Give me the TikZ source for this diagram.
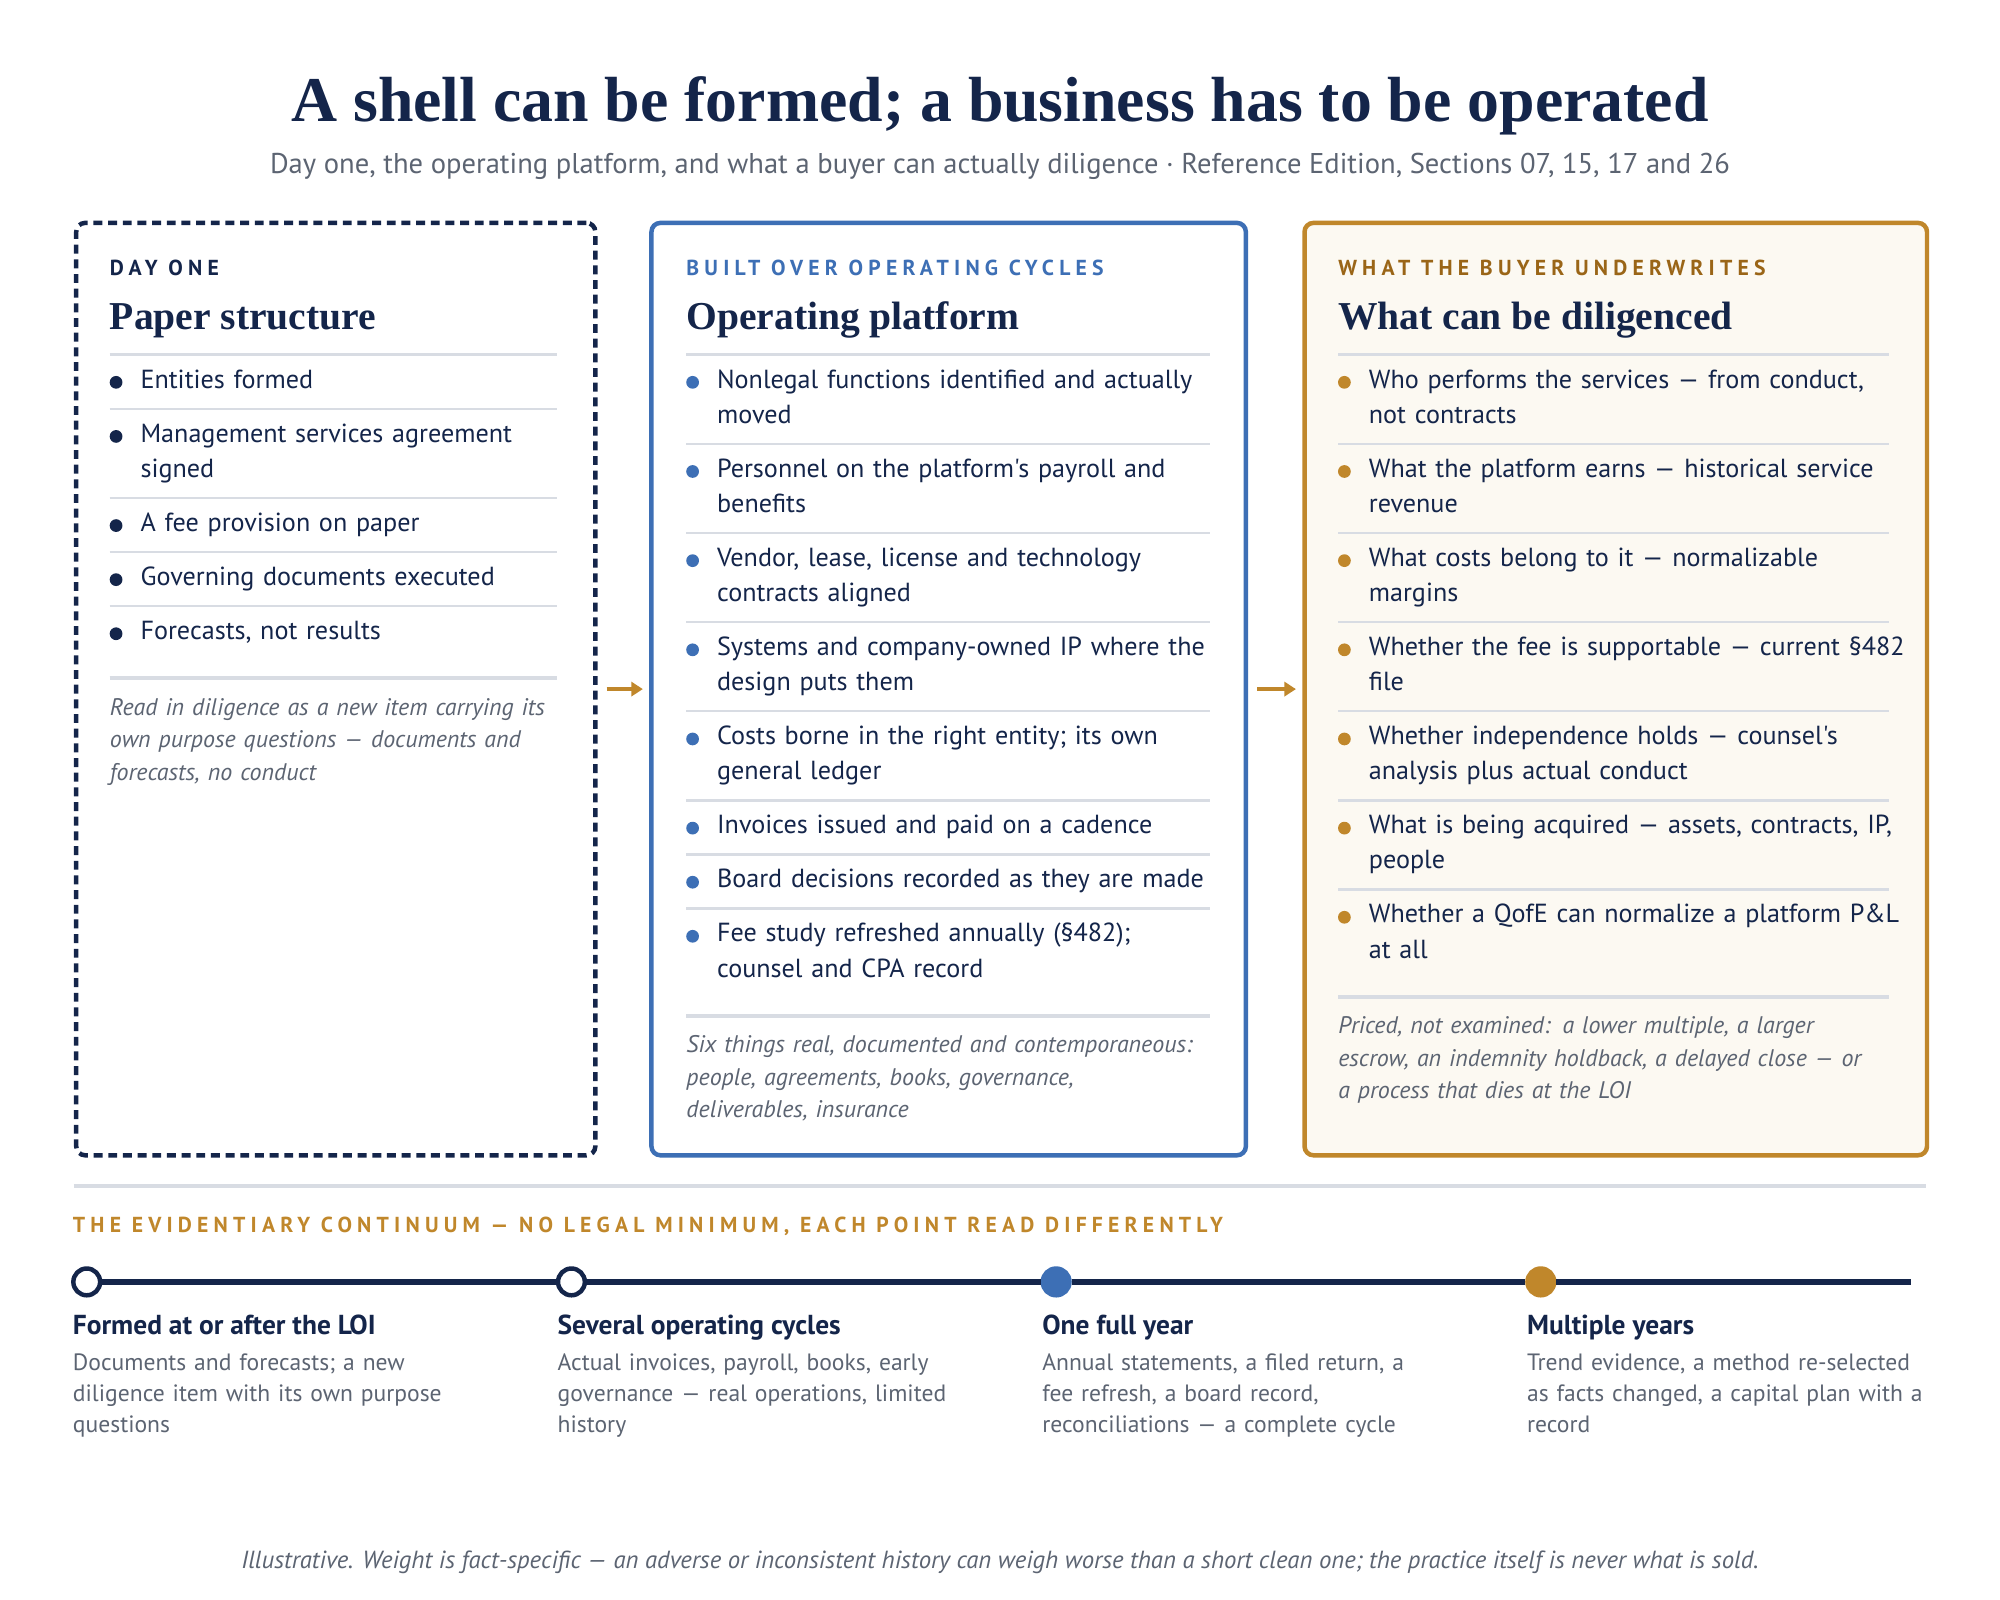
\documentclass[tikz,border=0pt]{standalone}
\usepackage{fontspec}
\usepackage{tikz}
\usetikzlibrary{calc, arrows.meta}
\usetikzlibrary{positioning}

\newfontfamily\bodyfont{PT Sans}
\newfontfamily\kickfont[LetterSpace=24]{PT Sans}
\newfontfamily\headfont{Liberation Serif}

\definecolor{ink}{HTML}{14254A}
\definecolor{steel}{HTML}{3D6FB5}
\definecolor{ochre}{HTML}{C0872B}
\definecolor{ochredark}{HTML}{9A6517}
\definecolor{hairline}{HTML}{D8DCE3}
\definecolor{slate}{HTML}{5C6472}
\definecolor{cream}{HTML}{FCF9F2}

\begin{document}
\begin{tikzpicture}[x=1pt, y=1pt,
    panel/.style={draw, line width=3.5pt, rounded corners=7pt, anchor=north west, minimum width=#1, minimum height=731pt, inner sep=0pt},
    kicker/.style={anchor=base west, inner sep=0pt, font=\kickfont\bfseries\fontsize{17}{20}\selectfont},
    heading/.style={anchor=base west, inner sep=0pt, text=ink, font=\headfont\bfseries\fontsize{31}{36}\selectfont},
    item/.style={inner sep=0pt, text width=460pt, align=left, text=ink, font=\bodyfont\fontsize{20.5}{27.5}\selectfont, execute at begin node=\strut, execute at end node=\strut},
    note/.style={inner sep=0pt, text width=450pt, align=left, text=slate, font=\bodyfont\itshape\fontsize{18.8}{25.5}\selectfont, execute at begin node=\strut, execute at end node=\strut},
    bullet/.style={circle, fill=#1, inner sep=0pt, minimum size=10pt},
    hair/.style={draw=hairline, line width=1.8pt},
    thickhair/.style={draw=hairline, line width=3pt},
    flow/.style={draw=ochre, line width=3pt, -{Triangle[length=9pt,width=11pt]}, shorten <=7pt, shorten >=5pt},
    stop/.style={circle, line width=3.5pt, minimum size=21pt, inner sep=0pt},
    stoptitle/.style={anchor=base west, inner sep=0pt, text=ink, font=\bodyfont\bfseries\fontsize{21.5}{24}\selectfont},
    stopnote/.style={anchor=north west, inner sep=0pt, text width=340pt, align=left, text=slate, font=\bodyfont\fontsize{18.5}{24.5}\selectfont, execute at begin node=\strut, execute at end node=\strut},
    track/.style={draw=ink, line width=5pt}
    ]
    \fill[white] (0,0) rectangle (1568,-1254.4);
    \useasboundingbox (0,0) rectangle (1568,-1254.4);

    % title block
    \node[anchor=base, inner sep=0pt, text=ink, font=\headfont\bfseries\fontsize{50}{58}\selectfont] (title) at (784,-95) {A shell can be formed; a business has to be operated};
    \node[anchor=base, inner sep=0pt, text=slate, font=\bodyfont\fontsize{22.4}{26}\selectfont] (subtitle) at (784,-136) {Day one, the operating platform, and what a buyer can actually diligence · Reference Edition, Sections 07, 15, 17 and 26};

    % the three panels
    \node[panel=407pt, draw=ink, dash pattern=on 7pt off 4.5pt] (paper) at (58,-173) {};
    \node[panel=466pt, draw=steel] (platform) at (509,-173) {};
    \node[panel=488pt, draw=ochre, fill=cream] (buyer) at (1021,-173) {};

    \draw[flow] (paper) -- (platform);
    \draw[flow] (platform) -- (buyer);

    % day one
    \node[kicker, text=ink] (ka) at (86,-216) {DAY ONE};
    \node[heading] (ha) at (86,-258) {Paper structure};
    \coordinate (ra0) at (86,-278);
    \foreach \txt [count=\i, remember=\i as \j (initially 0)] in
        {{Entities formed}, {Management services agreement\\signed}, {A fee provision on paper},
         {Governing documents executed}, {Forecasts, not results}} {
        \draw[hair] (ra\j) -- ++(351,0);
        \node[item, below right=6.75pt and 24pt of ra\j] (ia\i) {\txt};
        \node[bullet=ink] at ($(ia\i.north west)+(-19pt,-15pt)$) {};
        \coordinate (ra\i) at ($(ia\i.south west)+(-24pt,-7.75pt)$);
    }
    \draw[thickhair] ($(ia5.south west)+(-24pt,-22pt)$) coordinate (na) -- ++(351,0);
    \node[note, below right=11pt and 0pt of na] (notea) {Read in diligence as a new item carrying its\\own purpose questions — documents and\\forecasts, no conduct};

    % operating platform
    \node[kicker, text=steel] (kb) at (538,-216) {BUILT OVER OPERATING CYCLES};
    \node[heading] (hb) at (538,-258) {Operating platform};
    \coordinate (rb0) at (538,-278);
    \foreach \txt [count=\i, remember=\i as \j (initially 0)] in
        {{Nonlegal functions identified and actually\\moved}, {Personnel on the platform's payroll and\\benefits},
         {Vendor, lease, license and technology\\contracts aligned}, {Systems and company-owned IP where the\\design puts them},
         {Costs borne in the right entity; its own\\general ledger}, {Invoices issued and paid on a cadence},
         {Board decisions recorded as they are made}, {Fee study refreshed annually (§482);\\counsel and CPA record}} {
        \draw[hair] (rb\j) -- ++(411,0);
        \node[item, below right=6.75pt and 24pt of rb\j] (ib\i) {\txt};
        \node[bullet=steel] at ($(ib\i.north west)+(-19pt,-15pt)$) {};
        \coordinate (rb\i) at ($(ib\i.south west)+(-24pt,-7.75pt)$);
    }
    \draw[thickhair] ($(ib8.south west)+(-24pt,-22pt)$) coordinate (nb) -- ++(411,0);
    \node[note, below right=11pt and 0pt of nb] (noteb) {Six things real, documented and contemporaneous:\\people, agreements, books, governance,\\deliverables, insurance};

    % what the buyer underwrites
    \node[kicker, text=ochredark] (kc) at (1049,-216) {WHAT THE BUYER UNDERWRITES};
    \node[heading] (hc) at (1049,-258) {What can be diligenced};
    \coordinate (rc0) at (1049,-278);
    \foreach \txt [count=\i, remember=\i as \j (initially 0)] in
        {{Who performs the services — from conduct,\\not contracts}, {What the platform earns — historical service\\revenue},
         {What costs belong to it — normalizable\\margins}, {Whether the fee is supportable — current §482\\file},
         {Whether independence holds — counsel's\\analysis plus actual conduct}, {What is being acquired — assets, contracts, IP,\\people},
         {Whether a QofE can normalize a platform P\&L\\at all}} {
        \draw[hair] (rc\j) -- ++(432,0);
        \node[item, below right=6.75pt and 24pt of rc\j] (ic\i) {\txt};
        \node[bullet=ochre] at ($(ic\i.north west)+(-19pt,-15pt)$) {};
        \coordinate (rc\i) at ($(ic\i.south west)+(-24pt,-7.75pt)$);
    }
    \draw[thickhair] ($(ic7.south west)+(-24pt,-22pt)$) coordinate (nc) -- ++(432,0);
    \node[note, below right=11pt and 0pt of nc] (notec) {Priced, not examined: a lower multiple, a larger\\escrow, an indemnity holdback, a delayed close — or\\a process that dies at the LOI};

    % evidentiary continuum
    \draw[thickhair] (58,-930) -- (1510,-930);
    \node[kicker, text=ochre] (kd) at (57,-966) {THE EVIDENTIARY CONTINUUM — NO LEGAL MINIMUM, EACH POINT READ DIFFERENTLY};

    \coordinate (tend) at (1498,-1005);
    \foreach \fillc/\edgec/\lbl/\desc [count=\i] in
        {white/ink/Formed at or after the LOI/{Documents and forecasts; a new\\diligence item with its own purpose\\questions},
         white/ink/Several operating cycles/{Actual invoices, payroll, books, early\\governance — real operations, limited\\history},
         steel/steel/One full year/{Annual statements, a filed return, a\\fee refresh, a board record,\\reconciliations — a complete cycle},
         ochre/ochre/Multiple years/{Trend evidence, a method re-selected\\as facts changed, a capital plan with a\\record}} {
        \node[stop, draw=\edgec, fill=\fillc] (m\i) at (68+380*\i-380,-1005) {};
        \node[stoptitle] (lt\i) at ($(m\i)+(-11pt,-41.6pt)$) {\lbl};
        \node[stopnote] (ld\i) at ($(m\i)+(-11pt,-52pt)$) {\desc};
    }
    \path[track] (m1) -- (m2) (m2) -- (m3) (m3) -- (m4) (m4) -- (tend);

    \node[anchor=base, inner sep=0pt, text=slate, font=\bodyfont\itshape\fontsize{19.4}{22}\selectfont] (foot) at (784,-1230) {Illustrative. Weight is fact-specific — an adverse or inconsistent history can weigh worse than a short clean one; the practice itself is never what is sold.};
\end{tikzpicture}
\end{document}
